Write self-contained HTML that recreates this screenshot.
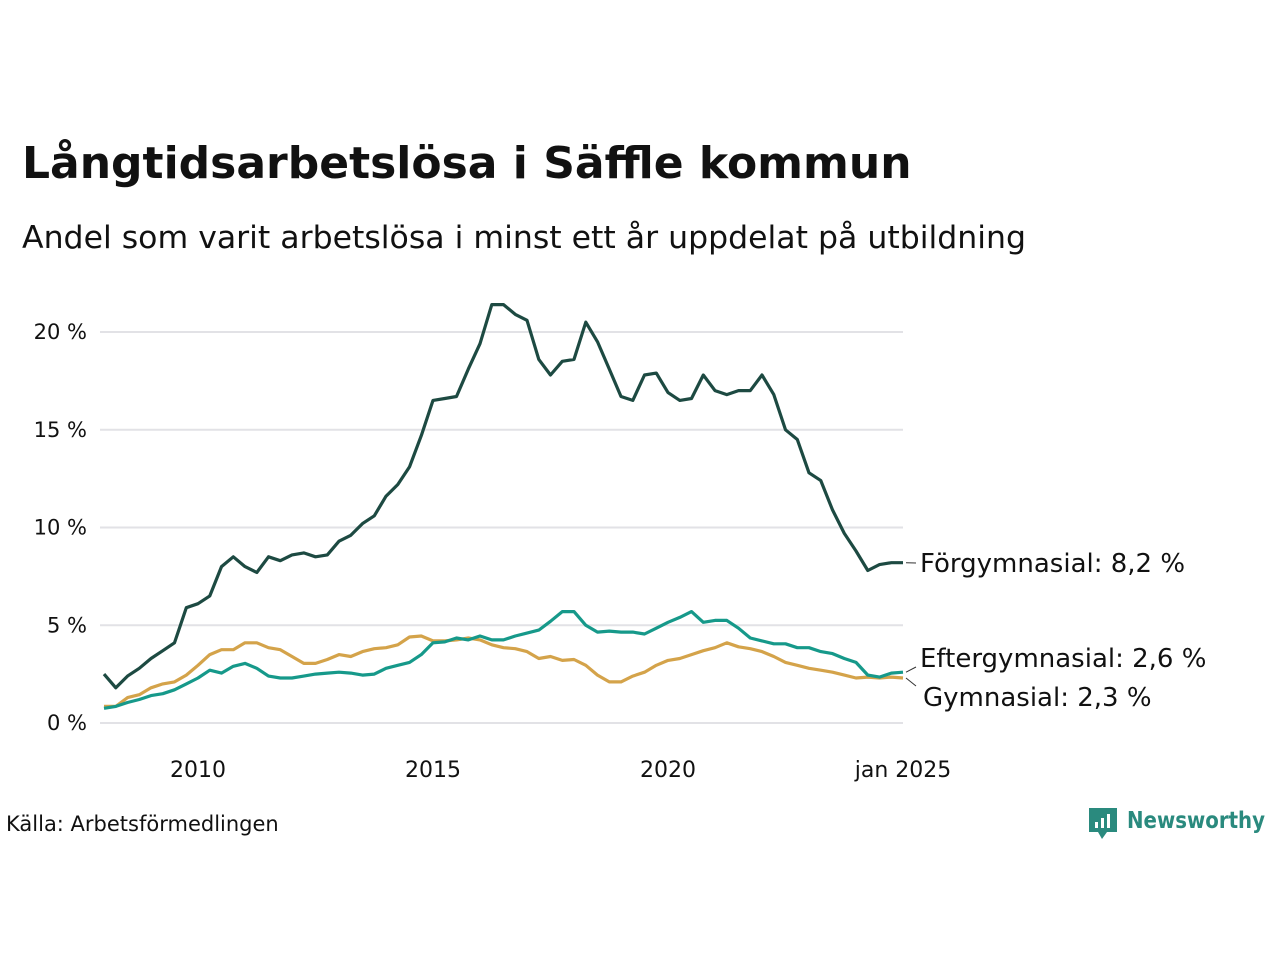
<!DOCTYPE html>
<html><head><meta charset="utf-8">
<style>
body{margin:0;background:#fff;font-family:"Liberation Sans","DejaVu Sans",sans-serif;}
#wrap{position:relative;width:1280px;height:960px;overflow:hidden;}
</style></head>
<body><div id="wrap">
<svg id="chart" width="1280" height="960" font-family="'DejaVu Sans','Liberation Sans',sans-serif">
<text x="22" y="178" font-size="44" font-weight="bold" fill="#111">Långtidsarbetslösa i Säffle kommun</text>
<text x="22" y="248" font-size="31" fill="#111" textLength="1004" lengthAdjust="spacingAndGlyphs">Andel som varit arbetslösa i minst ett år uppdelat på utbildning</text>
<g id="grid"></g><g id="xaxis"></g><g id="lines"></g><g id="labels"></g>
<text x="6" y="831" font-size="21" fill="#111">Källa: Arbetsförmedlingen</text>
<g>
<path d="M1089 808 h28 v24 h-10 l-5 7 l-4 -7 h-9 z" fill="#2a8a7e"/>
<rect x="1095" y="822" width="3" height="6" fill="#fff"/><rect x="1101" y="818" width="3" height="10" fill="#fff"/><rect x="1107" y="814" width="3" height="14" fill="#fff"/>
<text x="1127" y="828" font-size="23" font-weight="bold" fill="#2a8a7e" textLength="138" lengthAdjust="spacingAndGlyphs">Newsworthy</text>
</g>
</svg>
<script>
const yTicks=[0,5,10,15,20];
const xTickYears=[2010,2015,2020];
const xTickLabels=["2010","2015","2020","jan 2025"];
const forgymnasial=[2.5,1.8,2.4,2.8,3.3,3.7,4.1,5.9,6.1,6.5,8.0,8.5,8.0,7.7,8.5,8.3,8.6,8.7,8.5,8.6,9.3,9.6,10.2,10.6,11.6,12.2,13.1,14.7,16.5,16.6,16.7,18.1,19.4,21.4,21.4,20.9,20.6,18.6,17.8,18.5,18.6,20.5,19.5,18.1,16.7,16.5,17.8,17.9,16.9,16.5,16.6,17.8,17.0,16.8,17.0,17.0,17.8,16.8,15.0,14.5,12.8,12.4,10.9,9.7,8.8,7.8,8.1,8.2,8.2];
const eftergymnasial=[0.75,0.85,1.05,1.2,1.4,1.5,1.7,2.0,2.3,2.7,2.55,2.9,3.05,2.8,2.4,2.3,2.3,2.4,2.5,2.55,2.6,2.55,2.45,2.5,2.8,2.95,3.1,3.5,4.1,4.15,4.35,4.25,4.45,4.25,4.25,4.45,4.6,4.75,5.2,5.7,5.7,5.0,4.65,4.7,4.65,4.65,4.55,4.85,5.15,5.4,5.7,5.15,5.25,5.25,4.85,4.35,4.2,4.05,4.05,3.85,3.85,3.65,3.55,3.3,3.1,2.45,2.35,2.55,2.6];
const gymnasial=[0.85,0.85,1.3,1.45,1.8,2.0,2.1,2.45,2.95,3.5,3.75,3.75,4.1,4.1,3.85,3.75,3.4,3.05,3.05,3.25,3.5,3.4,3.65,3.8,3.85,4.0,4.4,4.45,4.2,4.2,4.25,4.35,4.25,4.0,3.85,3.8,3.65,3.3,3.4,3.2,3.25,2.95,2.45,2.1,2.1,2.4,2.6,2.95,3.2,3.3,3.5,3.7,3.85,4.1,3.9,3.8,3.65,3.4,3.1,2.95,2.8,2.7,2.6,2.45,2.3,2.35,2.3,2.35,2.3];
const seriesNames=["Förgymnasial","Eftergymnasial","Gymnasial"];
const NS="http://www.w3.org/2000/svg";
const startYear=2008, stepYears=0.25;
const X0=104,X1=903,Y0=723,YPER=19.55;
function xScaleYear(yr){return X0+(yr-startYear)/17*(X1-X0);}
function xScale(i){return xScaleYear(startYear+i*stepYears);}
function yScale(v){return Y0-v*YPER;}
function mk(tag,attrs,parent){const e=document.createElementNS(NS,tag);for(const k in attrs)e.setAttribute(k,attrs[k]);parent.appendChild(e);return e;}
const grid=document.getElementById('grid');
yTicks.forEach(t=>{
  const l=mk('line',{x1:100,x2:903,y1:yScale(t),y2:yScale(t),stroke:'#e2e2e6','stroke-width':2},grid);
  
  
  const tx=mk('text',{x:87,y:yScale(t)+7,'font-size':21,'text-anchor':'end',fill:'#111'},grid);
  tx.textContent=t+' %';
  
  
});
const xa=document.getElementById('xaxis');
const xyrs=xTickYears.concat([2025]);
xyrs.forEach((y,i)=>{
  const tx=mk('text',{x:xScaleYear(y),y:777,'font-size':22,'text-anchor':'middle',fill:'#111'},xa);
  tx.textContent=xTickLabels[i];
  
  
});
const lines=document.getElementById('lines');
const sets=[[gymnasial,'#d4a34a','gymnasial'],[eftergymnasial,'#16998a','eftergymnasial'],[forgymnasial,'#1d4a42','forgymnasial']];
sets.forEach(s=>{
  const d=s[0].map((v,i)=>(i?'L':'M')+xScale(i).toFixed(1)+' '+yScale(v).toFixed(1)).join(' ');
  const p=mk('path',{d:d,fill:'none',stroke:s[1],'stroke-width':3.2,'stroke-linejoin':'round'},lines);
  
  
});
const lab=document.getElementById('labels');
const last=[forgymnasial,eftergymnasial,gymnasial].map(a=>a[a.length-1]);
const labY=[563,667,686];
const textY=[572,667,706];
last.forEach((v,i)=>{
  const ly=yScale(v);
  mk('line',{x1:906,y1:ly,x2:916,y2:labY[i],stroke:'#333','stroke-width':1},lab);
  const tx=mk('text',{x:i==2?923:920,y:textY[i],'font-size':26,fill:'#111'},lab);
  tx.textContent=seriesNames[i]+': '+v.toFixed(1).replace('.',',')+' %';
  
  
});
</script>
</div></body></html>
